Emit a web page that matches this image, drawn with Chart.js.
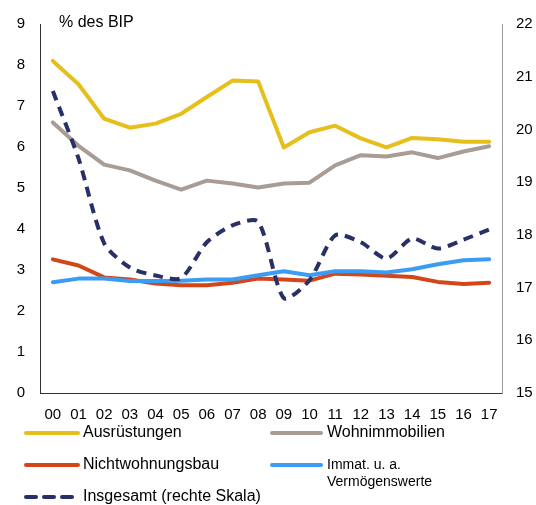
<!DOCTYPE html>
<html lang="de">
<head>
  <meta charset="UTF-8" />
  <title>Investitionen</title>
  <script src="https://cdn.jsdelivr.net/npm/chart.js"></script>
  <style>
    html, body { margin: 0; padding: 0; background: #fff; }
    .wrap { position: relative; width: 536px; height: 505px; }
  </style>
</head>
<body>
  <div class="wrap"><canvas id="chart"></canvas></div>
  <script>
    const years = ['00','01','02','03','04','05','06','07','08','09','10','11','12','13','14','15','16','17'];
    const ausruestungen = [8.10,7.53,6.69,6.47,6.57,6.81,7.22,7.62,7.60,5.99,6.36,6.52,6.21,5.99,6.22,6.19,6.13,6.13];
    const wohnimmobilien = [6.60,6.03,5.57,5.43,5.18,4.96,5.18,5.11,5.01,5.11,5.13,5.55,5.80,5.77,5.87,5.73,5.89,6.02];
    const nichtwohnungsbau = [3.26,3.11,2.82,2.77,2.67,2.63,2.63,2.69,2.79,2.77,2.74,2.91,2.89,2.86,2.83,2.71,2.66,2.69];
    const immat = [2.70,2.79,2.79,2.73,2.73,2.74,2.77,2.77,2.87,2.97,2.87,2.97,2.97,2.94,3.02,3.14,3.24,3.26];
    const insgesamt = [20.73,19.45,17.84,17.38,17.23,17.18,17.86,18.18,18.25,16.80,17.14,17.99,17.86,17.55,17.93,17.74,17.91,18.10];

    const FONT = '"Liberation Sans", Arial, sans-serif';

    // legend slots: [line x start, line x end, text x, y]
    const legendSlots = [
      [24, 80, 83, 433],
      [270, 323, 327, 433],
      [24, 80, 83, 465],
      [270, 323, 327, 465],
      [24, 80, 83, 497]
    ];

    const legendPlugin = {
      id: 'customLegend',
      afterDraw(chart) {
        const ctx = chart.ctx;
        ctx.save();
        // unit label
        ctx.fillStyle = '#000';
        ctx.font = '16px ' + FONT;
        ctx.textBaseline = 'middle';
        ctx.textAlign = 'left';
        ctx.fillText('% des BIP', 59, 23);

        chart.data.datasets.forEach((ds, i) => {
          const [x0, x1, tx, y] = legendSlots[i];
          ctx.strokeStyle = ds.borderColor;
          ctx.lineWidth = 4;
          ctx.lineCap = 'round';
          ctx.setLineDash(ds.borderDash ? [10, 8] : []);
          ctx.beginPath();
          ctx.moveTo(x0 + 2, y);
          ctx.lineTo(x1 - 2, y);
          ctx.stroke();
          ctx.setLineDash([]);
          ctx.fillStyle = '#000';
          const lines = ds.label.split('\n');
          if (lines.length > 1) {
            ctx.font = '14px ' + FONT;
            lines.forEach((t, k) => ctx.fillText(t, tx, y + k * 17));
          } else {
            ctx.font = '16px ' + FONT;
            ctx.fillText(ds.label, tx, y);
          }
        });
        ctx.restore();
      }
    };

    const solid = { borderWidth: 4, pointRadius: 0, tension: 0, fill: false, borderCapStyle: 'round', borderJoinStyle: 'round', yAxisID: 'y' };

    new Chart(document.getElementById('chart'), {
      type: 'line',
      data: {
        labels: years,
        datasets: [
          Object.assign({ label: 'Ausrüstungen', data: ausruestungen, borderColor: '#E6BF1C', order: 4 }, solid),
          Object.assign({ label: 'Wohnimmobilien', data: wohnimmobilien, borderColor: '#A89C94', order: 3 }, solid),
          Object.assign({ label: 'Nichtwohnungsbau', data: nichtwohnungsbau, borderColor: '#D2461A', order: 2 }, solid),
          Object.assign({ label: 'Immat. u. a.\nVermögenswerte', data: immat, borderColor: '#3A9CF2', order: 1 }, solid),
          {
            label: 'Insgesamt (rechte Skala)', data: insgesamt, borderColor: '#283066',
            borderWidth: 4, borderDash: [10, 7], pointRadius: 0, tension: 0.25, fill: false,
            yAxisID: 'y1', order: 0
          }
        ]
      },
      options: {
        responsive: true,
        maintainAspectRatio: false,
        animation: false,
        layout: { padding: { top: 23, left: 0, right: 0, bottom: 0 } },
        plugins: { legend: { display: false }, tooltip: { enabled: false } },
        scales: {
          x: {
            offset: true,
            grid: { display: false, drawTicks: false },
            border: { color: '#333', width: 1 },
            ticks: { color: '#000', font: { family: FONT, size: 15 }, padding: 13, maxRotation: 0, autoSkip: false },
            afterFit(scale) { scale.height = 112; }
          },
          y: {
            position: 'left',
            min: 0, max: 9,
            grid: { display: false, drawTicks: false },
            border: { color: '#333', width: 1 },
            ticks: { stepSize: 1, color: '#000', font: { family: FONT, size: 15 }, padding: 15 },
            afterFit(scale) { scale.width = 40; }
          },
          y1: {
            position: 'right',
            min: 15, max: 22,
            grid: { display: false, drawTicks: false },
            border: { color: '#999', width: 1 },
            ticks: { stepSize: 1, color: '#000', font: { family: FONT, size: 15 }, padding: 14 },
            afterFit(scale) { scale.width = 34; }
          }
        }
      },
      plugins: [legendPlugin]
    });
  </script>
</body>
</html>
